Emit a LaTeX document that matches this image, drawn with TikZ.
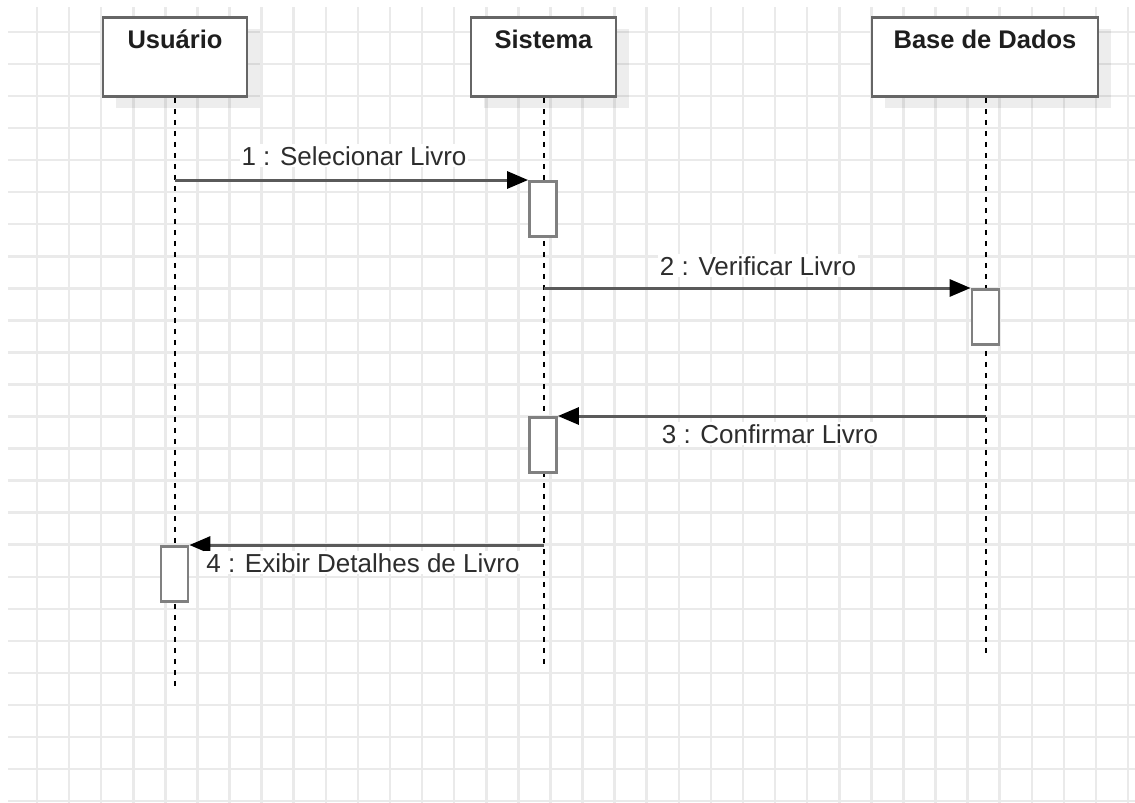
\documentclass[tikz,border=0pt]{standalone}
\usepackage{fontspec}
\setmainfont{Liberation Sans}
\usetikzlibrary{arrows.meta,shadows}
\definecolor{gridc}{RGB}{234,234,234}
\definecolor{boxc}{RGB}{102,102,102}
\definecolor{actc}{RGB}{128,128,128}
\definecolor{linec}{RGB}{90,90,90}
\definecolor{txtc}{RGB}{45,45,45}
\definecolor{headtxt}{RGB}{30,30,30}
\begin{document}
\begin{tikzpicture}[x=1pt,y=-1pt,
  gridline/.style={draw=gridc, line width=2.5pt},
  header/.style={draw=boxc, line width=2.8pt, fill=white, inner sep=0pt,
    minimum height=79pt, anchor=north,
    drop shadow={shadow xshift=13pt, shadow yshift=-12pt, opacity=0.07, fill=black}},
  htext/.style={anchor=base, text=headtxt, font=\fontsize{25.5}{30}\selectfont\bfseries, inner sep=0pt},
  life/.style={draw=black, line width=2pt, dash pattern=on 5pt off 6pt},
  act/.style={draw=actc, line width=2.8pt, fill=white, inner sep=0pt,
    minimum width=27pt, minimum height=55pt, anchor=north},
  msg/.style={draw=linec, line width=3pt,
    -{Triangle[length=21pt,width=17pt,color=black]}},
  mlabel/.style={anchor=base, fill=white, text=txtc, inner sep=2pt,
    font=\fontsize{26}{30}\selectfont}
]
\useasboundingbox (0,0) rectangle (1135,803);
\fill[white] (0,0) rectangle (1135,803);
% grid
\foreach \i in {0,...,34} \draw[gridline] ({37+32.09*\i},7) -- ({37+32.09*\i},803);
\foreach \j in {0,...,24} \draw[gridline] (8,{31.9+32.05*\j}) -- (1135,{31.9+32.05*\j});

% headers
\node[header, minimum width=144pt] (usr) at (175,16) {};
\node[header, minimum width=145pt] (sis) at (543.5,16) {};
\node[header, minimum width=226pt] (bd) at (985,16) {};
\node[htext] (usrT) at (175,48) {Usuário};
\node[htext] (sisT) at (543.5,48) {Sistema};
\node[htext] (bdT) at (985,48) {Base de Dados};

% lifeline ends
\coordinate (usrEnd) at (175,688);
\coordinate (sisEnd) at (544,667);
\coordinate (bdEnd) at (986,656);
\draw[life] (usr.south) -- (usrEnd);
\draw[life] (sis.south) ++(0.5,0) -- (sisEnd);
\draw[life] (bd.south) ++(1,0) -- (bdEnd);

% activation boxes
\node[act] (act1) at (543,180) {};
\node[act] (act2) at (985.5,288) {};
\node[act] (act3) at (543,416) {};
\node[act] (act4) at (174.5,545) {};

% message start points on lifelines
\coordinate (m1) at (175,180);
\coordinate (m2) at (544,288);
\coordinate (m3) at (986,416);
\coordinate (m4) at (544,545);

\draw[msg] (m1) -- (act1.north west);
\draw[msg] (m2) -- (act2.north west);
\draw[msg] (m3) -- (act3.north east);
\draw[msg] (m4) -- (act4.north east);

% labels
\node[mlabel] (l1) at (354,165) {1 : Selecionar Livro};
\node[mlabel] (l2) at (758,275) {2 : Verificar Livro};
\node[mlabel] (l3) at (770,443) {3 : Confirmar Livro};
\node[mlabel] (l4) at (363,572) {4 : Exibir Detalhes de Livro};
\end{tikzpicture}
\end{document}
